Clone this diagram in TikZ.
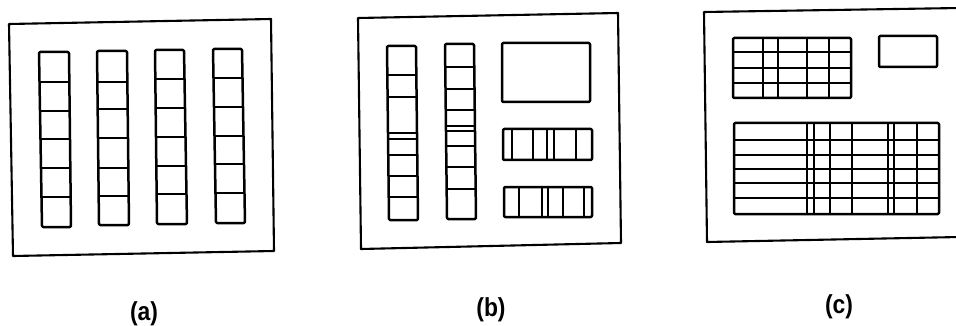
\documentclass[tikz,border=0pt]{standalone}
\usepackage{fontspec}
\setmainfont{Liberation Sans}
\usetikzlibrary{calc}
\tikzset{
  frame/.style={draw=black, line width=2.1pt, line join=round},
  cell/.style={draw=black, line width=2.5pt, line join=round, rounded corners=1.2pt},
  divider/.style={draw=black, line width=2.2pt},
  panellabel/.style={font=\fontsize{26}{26}\selectfont\bfseries, inner sep=0pt, xscale=0.88}
}
% vertical column of cells: #1 xtl, #2 xtr, #3 xbl, #4 xbr, #5 ytop, #6 ybot, #7 divider y list
\newcommand\cellcolumn[7]{%
  \draw[cell] (#1,#5) -- (#2,#5) -- (#4,#6) -- (#3,#6) -- cycle;
  \foreach \yy in {#7} {
    \draw[divider] ($(#1,#5)!{(\yy-#5)/(#6-#5)}!(#3,#6)$) -- ($(#2,#5)!{(\yy-#5)/(#6-#5)}!(#4,#6)$);
  }%
}
% horizontal strip with vertical dividers: #1 x0, #2 y0, #3 x1, #4 y1, #5 divider x list
\newcommand\cellstrip[5]{%
  \draw[cell] (#1,#2) rectangle (#3,#4);
  \foreach \xx in {#5} {\draw[divider] (\xx,#2) -- (\xx,#4);}%
}
\begin{document}
\begin{tikzpicture}[x=1pt, y=-1pt]
\useasboundingbox (0,0) rectangle (956,326);
\clip (0,0) rectangle (956,326);

% ---------- panel (a) ----------
\draw[frame] (9,24) -- (271,19) -- (274,251) -- (13,256) -- cycle;
\cellcolumn{39}{69}{42}{71}{52}{227}{82,111,139,168,197}
\cellcolumn{97}{127}{99}{129}{51}{225}{82,109,138,168,196}
\cellcolumn{155}{184}{157}{187}{50}{224}{79,108,137,166,194}
\cellcolumn{213}{242}{216}{245}{49}{223}{78,107,136,164,193}

% ---------- panel (b) ----------
\draw[frame] (358,18) -- (618,13) -- (621,243) -- (361,249) -- cycle;
\cellcolumn{387}{416}{389}{418}{46}{220}{75,97,133,139,155,176,197}
\cellcolumn{445}{474}{447}{476}{44}{219}{67,89,110,126,131,146,167,189}
\draw[cell] (502,43) rectangle (590,102);
\cellstrip{503}{129}{592}{160}{512,533,547,554,576}
\cellstrip{504}{187}{592}{217}{519,542,548,563,584}

% ---------- panel (c) ----------
\draw[frame] (960,8) -- (704,12) -- (707,242) -- (960,237);
\draw[cell] (733,38) rectangle (851,98);
\foreach \yy in {52,68,83} {\draw[divider] (733,\yy) -- (851,\yy);}
\foreach \xx in {763,778,807,829} {\draw[divider] (\xx,38) -- (\xx,98);}
\draw[cell] (879,36) rectangle (937,67);
\draw[cell] (734,123) rectangle (939,214);
\foreach \yy in {140,155,169,183,198} {\draw[divider] (734,\yy) -- (939,\yy);}
\foreach \xx in {807,814,830,852,888,894,917} {\draw[divider] (\xx,123) -- (\xx,214);}

% ---------- labels ----------
\node[panellabel] (la) at (144,314) {(a)};
\node[panellabel] (lb) at (491,310) {(b)};
\node[panellabel] (lc) at (839,307) {(c)};
\end{tikzpicture}
\end{document}
